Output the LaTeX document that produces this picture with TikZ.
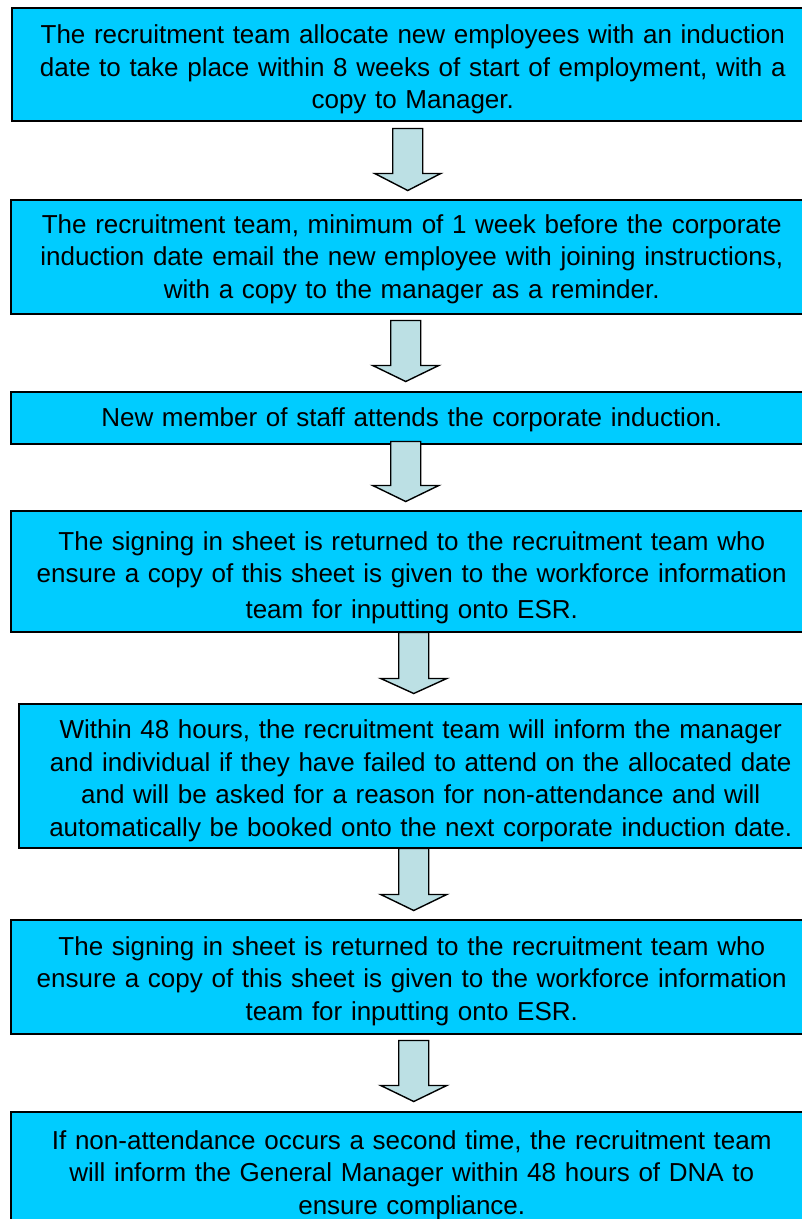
\documentclass[tikz,border=0pt]{standalone}
\usepackage{fontspec}
\setmainfont{Liberation Sans}
\usetikzlibrary{calc}
\definecolor{boxcyan}{HTML}{00CCFF}
\definecolor{arrowfill}{HTML}{BCE0E4}
\tikzset{
  stepbox/.style={draw=black, line width=1.5pt, fill=boxcyan, anchor=north west,
    inner sep=0pt, align=center, text width=796pt,
    font=\fontsize{26}{32.5}\selectfont},
  blockarrow/.style={draw=black, line width=1.4pt, fill=arrowfill, line join=miter}
}
\newcommand\toppad[1]{\rule{0pt}{#1}}
\begin{document}
\begin{tikzpicture}[x=1pt,y=-1pt]
\useasboundingbox (0,0) rectangle (802,1219);
\node[stepbox, minimum width=802pt, minimum height=113pt] (b1) at (11,7)
  {\toppad{29pt}The recruitment team allocate new employees with an induction\\date to take place within 8 weeks of start of employment, with a\\copy to Manager.};
\node[stepbox, minimum width=802pt, minimum height=114pt] (b2) at (10,199)
  {\toppad{23pt}The recruitment team, minimum of 1 week before the corporate\\induction date email the new employee with joining instructions,\\with a copy to the manager as a reminder.};
\node[stepbox, minimum width=802pt, minimum height=52pt] (b3) at (10,391)
  {\toppad{23pt}New member of staff attends the corporate induction.};
\node[stepbox, minimum width=802pt, minimum height=121pt] (b4) at (10,510)
  {\toppad{31pt}The signing in sheet is returned to the recruitment team who\\ensure a copy of this sheet is given to the workforce information\\[3pt]team for inputting onto ESR.};
\node[stepbox, minimum width=804pt, minimum height=144pt] (b5) at (18,703)
  {\toppad{29pt}Within 48 hours, the recruitment team will inform the manager\\and individual if they have failed to attend on the allocated date\\and will be asked for a reason for non-attendance and will\\automatically be booked onto the next corporate induction date.};
\node[stepbox, minimum width=802pt, minimum height=114pt] (b6) at (10,919)
  {\toppad{27pt}The signing in sheet is returned to the recruitment team who\\ensure a copy of this sheet is given to the workforce information\\team for inputting onto ESR.};
\node[stepbox, minimum width=802pt, minimum height=124pt] (b7) at (10,1111)
  {\toppad{21pt}If non-attendance occurs a second time, the recruitment team\\will inform the General Manager within 48 hours of DNA to\\ensure compliance.};
% block arrows
\draw[blockarrow] ($(b1.south)+(-5,0)$) ++(-15,7) -- ++(0,45) -- ++(-18,0) -- ++(33,17) -- ++(33,-17) -- ++(-18,0) -- ++(0,-45) -- cycle;
\draw[blockarrow] ($(b2.south)+(-6,0)$) ++(-15,6) -- ++(0,45) -- ++(-18,0) -- ++(33,16) -- ++(33,-16) -- ++(-18,0) -- ++(0,-45) -- cycle;
\draw[blockarrow] ($(b3.south)+(-6,0)$) ++(-15,-3) -- ++(0,44) -- ++(-18,0) -- ++(33,16) -- ++(33,-16) -- ++(-18,0) -- ++(0,-44) -- cycle;
\draw[blockarrow] ($(b4.south)+(2,0)$) ++(-15,0) -- ++(0,46) -- ++(-18,0) -- ++(33,15) -- ++(33,-15) -- ++(-18,0) -- ++(0,-46) -- cycle;
\draw[blockarrow] ($(b5.south)+(-7,0)$) ++(-15,0) -- ++(0,46) -- ++(-18,0) -- ++(33,16) -- ++(33,-16) -- ++(-18,0) -- ++(0,-46) -- cycle;
\draw[blockarrow] ($(b6.south)+(2,0)$) ++(-15,6) -- ++(0,45) -- ++(-18,0) -- ++(33,16) -- ++(33,-16) -- ++(-18,0) -- ++(0,-45) -- cycle;
\end{tikzpicture}
\end{document}
